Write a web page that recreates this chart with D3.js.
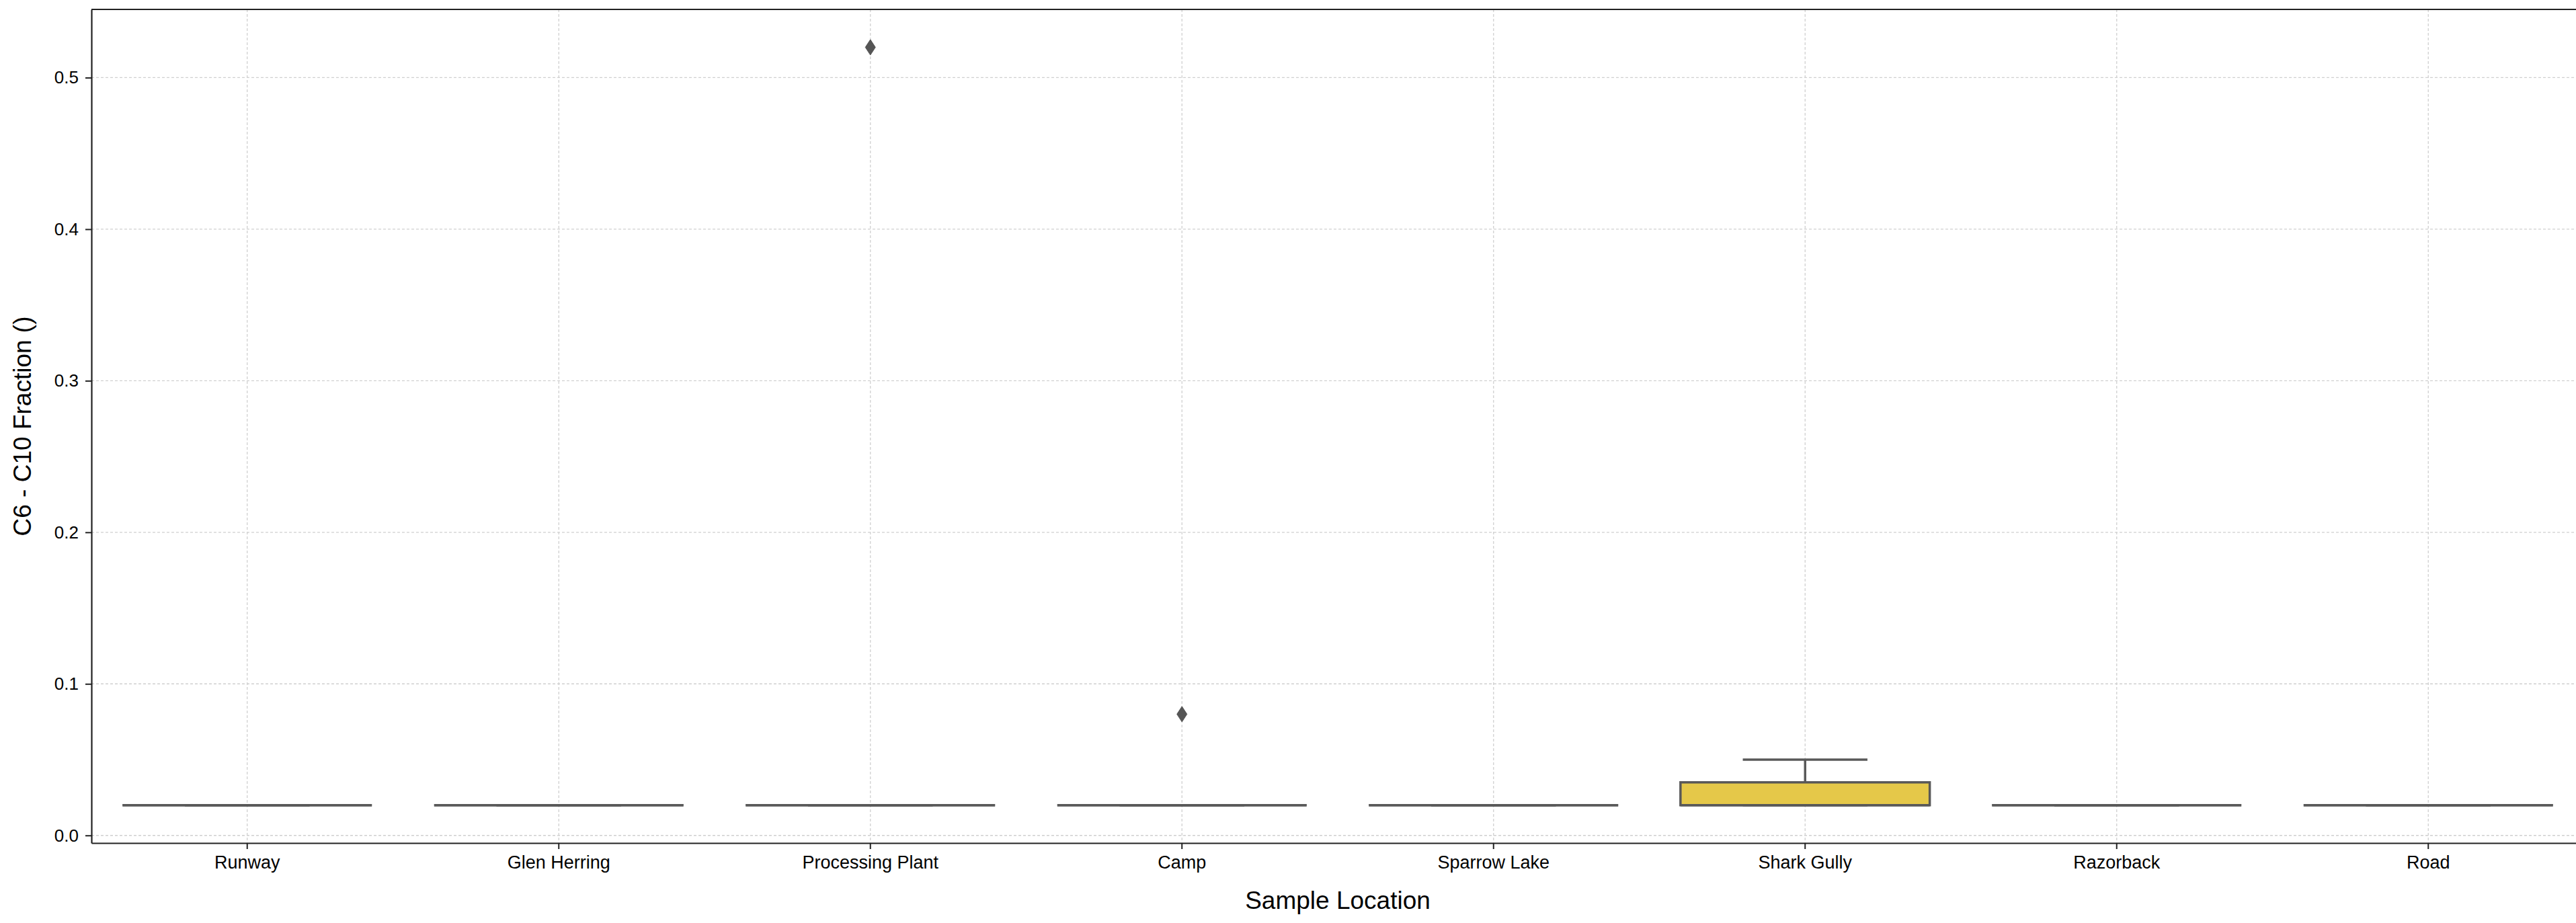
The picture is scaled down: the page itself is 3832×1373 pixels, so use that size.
<!DOCTYPE html>
<html>
<head>
<meta charset="utf-8">
<script src="https://cdn.jsdelivr.net/npm/d3@7"></script>
<style>
  html, body { margin: 0; padding: 0; background: #ffffff; }
  svg { display: block; font-family: "Liberation Sans", Arial, sans-serif; }
</style>
</head>
<body>
<svg id="chart" width="3832" height="1373"></svg>
<script>
// ---- data ----
const categories = ["Runway", "Glen Herring", "Processing Plant", "Camp", "Sparrow Lake", "Shark Gully", "Razorback", "Road"];
const whiskerLow  = [0.02, 0.02, 0.02, 0.02, 0.02, 0.02, 0.02, 0.02];
const q1Values    = [0.02, 0.02, 0.02, 0.02, 0.02, 0.02, 0.02, 0.02];
const medians     = [0.02, 0.02, 0.02, 0.02, 0.02, 0.02, 0.02, 0.02];
const q3Values    = [0.02, 0.02, 0.02, 0.02, 0.02, 0.035, 0.02, 0.02];
const whiskerHigh = [0.02, 0.02, 0.02, 0.02, 0.02, 0.05, 0.02, 0.02];
const outlierCats   = ["Processing Plant", "Camp"];
const outlierValues = [0.52, 0.08];
const yTicks = [0.0, 0.1, 0.2, 0.3, 0.4, 0.5];
const boxColors = ["#72b59f", "#e69375", "#95a2c5", "#d891bd", "#a5cb62", "#e5c849", "#d6c19e", "#b3b3b3"];
const xTitle = "Sample Location";
const yTitle = "C6 - C10 Fraction ()";

(function () {
// ---- layout ----
const svg = d3.select("#chart");
const pL = 136, pT = 14, pB = 1254, pR = 3844;

const x = d3.scaleBand().domain(categories).range([pL, pR]).paddingInner(0).paddingOuter(0);
const y = d3.scaleLinear().domain([-0.005, 0.545]).range([pB, pT]);

const lineColor = "#595959";

// grid
const grid = svg.append("g");
grid.selectAll("line.hg").data(yTicks).join("line")
  .attr("x1", pL).attr("x2", pR)
  .attr("y1", d => y(d)).attr("y2", d => y(d))
  .attr("stroke", "#d0d0d0").attr("stroke-width", 1.3).attr("stroke-dasharray", "4,3");
grid.selectAll("line.vg").data(categories).join("line")
  .attr("x1", d => x(d) + x.bandwidth() / 2).attr("x2", d => x(d) + x.bandwidth() / 2)
  .attr("y1", pT).attr("y2", pB)
  .attr("stroke", "#d0d0d0").attr("stroke-width", 1.3).attr("stroke-dasharray", "4,3");

// boxes
const bw = x.bandwidth() * 0.8;
const boxes = svg.append("g");
categories.forEach((c, i) => {
  const cx = x(c) + x.bandwidth() / 2;
  const x0 = cx - bw / 2, x1 = cx + bw / 2;
  boxes.append("line").attr("x1", cx).attr("x2", cx)
    .attr("y1", y(q3Values[i])).attr("y2", y(whiskerHigh[i]))
    .attr("stroke", lineColor).attr("stroke-width", 3.5);
  boxes.append("line").attr("x1", cx).attr("x2", cx)
    .attr("y1", y(q1Values[i])).attr("y2", y(whiskerLow[i]))
    .attr("stroke", lineColor).attr("stroke-width", 3.5);
  [whiskerLow[i], whiskerHigh[i]].forEach(v => {
    boxes.append("line").attr("x1", cx - bw / 4).attr("x2", cx + bw / 4)
      .attr("y1", y(v)).attr("y2", y(v))
      .attr("stroke", lineColor).attr("stroke-width", 3.5);
  });
  const p = d3.path();
  p.moveTo(x0, y(q1Values[i]));
  p.lineTo(x1, y(q1Values[i]));
  p.lineTo(x1, y(q3Values[i]));
  p.lineTo(x0, y(q3Values[i]));
  p.closePath();
  boxes.append("path").attr("d", p.toString())
    .attr("fill", boxColors[i]).attr("stroke", lineColor).attr("stroke-width", 3.5);
  boxes.append("line").attr("x1", x0).attr("x2", x1)
    .attr("y1", y(medians[i])).attr("y2", y(medians[i]))
    .attr("stroke", lineColor).attr("stroke-width", 3.5);
});

// outliers (thin diamonds)
const dw = 7.5, dh = 11.5;
const diamond = `M0,${-dh}L${dw},0L0,${dh}L${-dw},0Z`;
svg.append("g").selectAll("path").data(outlierCats.map((c, i) => ({c, v: outlierValues[i]}))).join("path")
  .attr("d", diamond)
  .attr("transform", d => `translate(${x(d.c) + x.bandwidth() / 2},${y(d.v)})`)
  .attr("fill", "#555555").attr("stroke", "#555555").attr("stroke-width", 1);

// axes
const xAxis = d3.axisBottom(x).tickSizeInner(9).tickSizeOuter(0).tickPadding(10);
const gx = svg.append("g").attr("transform", `translate(0,${pB})`).call(xAxis);
gx.select(".domain").attr("stroke", "#222").attr("stroke-width", 2.2);
gx.selectAll(".tick line").attr("stroke", "#222").attr("stroke-width", 2);
gx.selectAll(".tick text").attr("font-size", 27).attr("fill", "#000")
  .attr("font-family", "Liberation Sans, Arial, sans-serif");

const yAxis = d3.axisLeft(y).tickValues(yTicks).tickFormat(d3.format(".1f")).tickSizeInner(9).tickSizeOuter(0).tickPadding(10);
const gy = svg.append("g").attr("transform", `translate(${pL},0)`).call(yAxis);
gy.select(".domain").attr("stroke", "#222").attr("stroke-width", 2.2);
gy.selectAll(".tick line").attr("stroke", "#222").attr("stroke-width", 2);
gy.selectAll(".tick text").attr("font-size", 26).attr("fill", "#000")
  .attr("font-family", "Liberation Sans, Arial, sans-serif");

// top spine
svg.append("line").attr("x1", pL).attr("x2", pR).attr("y1", pT).attr("y2", pT)
  .attr("stroke", "#222").attr("stroke-width", 2.2);

// titles
svg.append("text").attr("x", (pL + pR) / 2).attr("y", 1352)
  .attr("text-anchor", "middle").attr("font-size", 37).attr("fill", "#000").text(xTitle);
svg.append("text").attr("transform", `translate(46,${(pT + pB) / 2}) rotate(-90)`)
  .attr("text-anchor", "middle").attr("font-size", 37).attr("fill", "#000").text(yTitle);
})();
</script>
</body>
</html>
